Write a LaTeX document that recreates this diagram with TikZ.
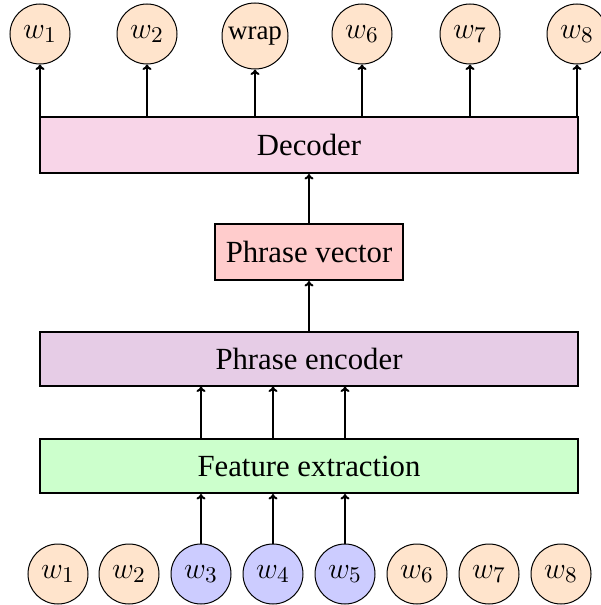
\documentclass[tikz,border=0pt]{standalone}
\usepackage{fontspec}
\setmainfont{Liberation Serif}
\usetikzlibrary{arrows.meta}
\definecolor{wordc}{RGB}{255,228,204}
\definecolor{selc}{RGB}{204,204,255}
\definecolor{decc}{RGB}{248,213,232}
\definecolor{pvc}{RGB}{255,204,204}
\definecolor{encc}{RGB}{230,204,230}
\definecolor{fec}{RGB}{204,255,204}
\begin{document}
\begin{tikzpicture}[x=0.4pt,y=-0.4pt,
  every node/.style={font=\fontsize{12.3}{14}\selectfont},
  word/.style={circle,draw,line width=0.4pt,fill=wordc,minimum size=24pt,inner sep=0pt},
  sel/.style={word,fill=selc},
  block/.style={draw,line width=0.8pt,minimum height=22pt,inner sep=0pt},
  conn/.style={-{To[length=2.2pt,width=3.6pt]},line width=0.8pt}]
\useasboundingbox (0,0) rectangle (600,605);
% top words
\node[word] (t1) at (40,34) {$w_1$};
\node[word] (t2) at (147,34) {$w_2$};
\node[word,minimum size=26.4pt,font=\fontsize{10.8}{12}\selectfont] (t3) at (255,36) {wrap};
\node[word] (t4) at (362,34) {$w_6$};
\node[word] (t5) at (470,34) {$w_7$};
\node[word] (t6) at (577,34) {$w_8$};
% blocks
\node[block,fill=decc,minimum width=215.2pt,minimum height=22.4pt] (dec) at (309,145) {Decoder};
\node[block,fill=pvc,minimum width=75.2pt,minimum height=22.4pt] (pv) at (309,252) {Phrase vector};
\node[block,fill=encc,minimum width=215.2pt,minimum height=21.6pt] (enc) at (309,358.5) {Phrase encoder};
\node[block,fill=fec,minimum width=215.2pt,minimum height=21.6pt] (fe) at (309,466) {Feature extraction};
% bottom words
\node[word] (b1) at (58,574) {$w_1$};
\node[word] (b2) at (129,574) {$w_2$};
\node[sel] (b3) at (201,574) {$w_3$};
\node[sel] (b4) at (273,574) {$w_4$};
\node[sel] (b5) at (345,574) {$w_5$};
\node[word] (b6) at (417,574) {$w_6$};
\node[word] (b7) at (489,574) {$w_7$};
\node[word] (b8) at (561,574) {$w_8$};
% connectors
\foreach \t in {t1,t2,t3,t4,t5,t6}
  \draw[conn] (dec.north -| \t) -- (\t.south);
\draw[conn] (pv.north) -- (dec.south);
\draw[conn] (enc.north -| pv) -- (pv.south);
\foreach \b in {b3,b4,b5} {
  \draw[conn] (\b.north) -- (fe.south -| \b);
  \draw[conn] (fe.north -| \b) -- (enc.south -| \b);
}
\end{tikzpicture}
\end{document}
